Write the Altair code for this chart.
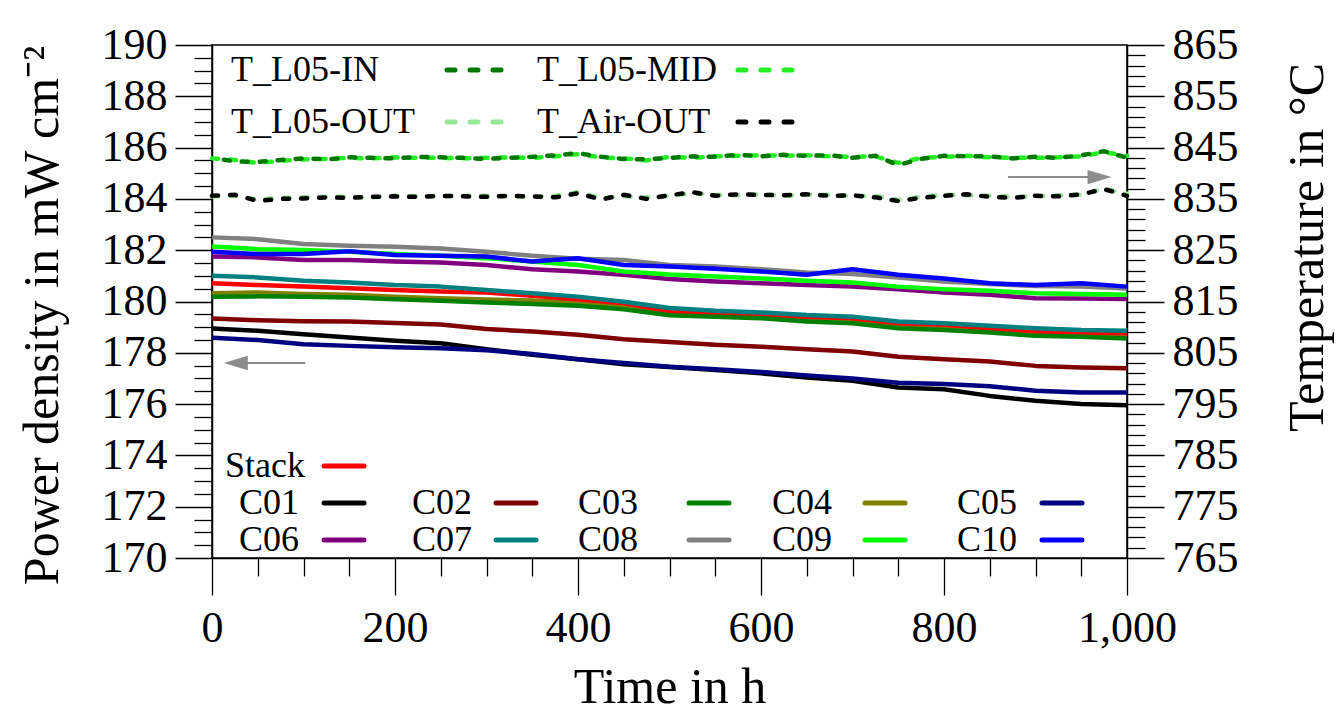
import altair as alt
import pandas as pd

# ---------------- data ----------------
TIME = list(range(0, 1001, 50))
TIME_T = list(range(0, 1001, 25))

SERIES = ["Stack", "C01", "C02", "C03", "C04", "C05", "C06", "C07", "C08", "C09", "C10"]
COLORS = ["#ff0000", "#000000", "#800000", "#008000", "#808000", "#000080",
          "#800080", "#008080", "#808080", "#00ff00", "#0000ff"]

STACK = [180.71, 180.64, 180.58, 180.52, 180.45, 180.39, 180.35, 180.22, 180.09, 179.93, 179.62,
         179.54, 179.47, 179.41, 179.35, 179.15, 179.09, 178.96, 178.83, 178.79, 178.76]
C01 = [178.95, 178.86, 178.72, 178.60, 178.47, 178.37, 178.14, 177.92, 177.75, 177.55, 177.45,
       177.33, 177.20, 177.04, 176.91, 176.65, 176.58, 176.32, 176.13, 176.00, 175.96]
C02 = [179.34, 179.27, 179.23, 179.22, 179.16, 179.10, 178.93, 178.83, 178.70, 178.53, 178.42,
       178.31, 178.24, 178.14, 178.05, 177.85, 177.75, 177.66, 177.49, 177.43, 177.40]
C03 = [180.19, 180.20, 180.19, 180.16, 180.09, 180.03, 179.96, 179.90, 179.83, 179.70, 179.46,
       179.41, 179.35, 179.22, 179.15, 178.96, 178.89, 178.79, 178.66, 178.63, 178.56]
C04 = [180.32, 180.35, 180.29, 180.26, 180.19, 180.13, 180.08, 180.04, 179.96, 179.82, 179.56,
       179.48, 179.41, 179.32, 179.25, 179.06, 178.99, 178.88, 178.75, 178.71, 178.66]
C05 = [178.59, 178.50, 178.33, 178.27, 178.22, 178.18, 178.10, 177.95, 177.75, 177.60, 177.46,
       177.36, 177.25, 177.12, 177.00, 176.83, 176.78, 176.70, 176.52, 176.45, 176.45]
C06 = [181.75, 181.72, 181.62, 181.62, 181.56, 181.52, 181.42, 181.26, 181.17, 181.04, 180.88,
       180.78, 180.71, 180.64, 180.58, 180.48, 180.35, 180.26, 180.13, 180.12, 180.10]
C07 = [181.00, 180.94, 180.81, 180.74, 180.64, 180.58, 180.45, 180.32, 180.19, 179.99, 179.75,
       179.64, 179.57, 179.47, 179.41, 179.22, 179.15, 179.05, 178.96, 178.89, 178.86]
C08 = [182.50, 182.43, 182.24, 182.17, 182.13, 182.07, 181.94, 181.78, 181.67, 181.62, 181.42,
       181.36, 181.26, 181.13, 181.07, 180.94, 180.78, 180.68, 180.60, 180.58, 180.51]
C09 = [182.14, 182.04, 182.01, 181.94, 181.85, 181.78, 181.69, 181.56, 181.42, 181.17, 181.05,
       180.97, 180.90, 180.81, 180.74, 180.58, 180.48, 180.42, 180.32, 180.29, 180.26]
C10 = [181.94, 181.85, 181.85, 181.96, 181.81, 181.78, 181.75, 181.56, 181.69, 181.42, 181.36,
       181.28, 181.17, 181.04, 181.26, 181.04, 180.90, 180.71, 180.64, 180.71, 180.58]
VALUES = [STACK, C01, C02, C03, C04, C05, C06, C07, C08, C09, C10]
DRAW_ORDER = ["C04", "Stack", "C01", "C02", "C03", "C05", "C06", "C07", "C08", "C09", "C10"]

T_NAMES = ["T_L05-IN", "T_L05-MID", "T_L05-OUT", "T_Air-OUT"]
T_COLORS = ["#007800", "#22ee22", "#99e699", "#000000"]
T_IN = [843.0, 842.3, 842.2, 842.6, 842.9, 842.7, 843.1, 843.0, 842.9, 843.2, 843.1,
        843.0, 842.8, 843.0, 843.2, 843.5, 843.9, 843.2, 842.8, 842.7, 843.0,
        843.3, 843.2, 843.6, 843.3, 843.6, 843.4, 843.5, 843.0, 843.4, 841.6,
        842.8, 843.4, 843.3, 843.3, 842.9, 843.2, 843.0, 843.5, 844.3, 843.0]
T_MID = [842.9, 842.6, 842.0, 842.4, 842.7, 842.8, 843.0, 842.9, 843.1, 843.0, 843.0,
         842.9, 843.0, 843.1, 843.0, 843.3, 843.7, 843.1, 842.9, 842.5, 843.2,
         843.0, 843.3, 843.4, 843.5, 843.4, 843.5, 843.3, 843.2, 843.3, 842.0,
         843.0, 843.2, 843.4, 843.1, 843.0, 843.0, 843.1, 843.3, 844.1, 843.4]
T_OUT = [835.5, 835.6, 834.9, 835.2, 835.3, 835.4, 835.4, 835.3, 835.6, 835.5, 835.5,
         835.6, 835.6, 835.5, 835.4, 835.6, 836.3, 835.2, 835.5, 835.3, 835.6,
         836.1, 835.8, 835.7, 835.9, 835.6, 835.8, 835.8, 835.5, 835.6, 834.8,
         835.4, 835.8, 835.7, 835.6, 835.4, 835.5, 835.7, 835.8, 837.0, 836.0]
T_AIR = [835.6, 835.8, 834.6, 835.0, 835.1, 835.3, 835.2, 835.4, 835.5, 835.4, 835.6,
         835.5, 835.4, 835.6, 835.5, 835.3, 836.1, 834.9, 835.8, 835.0, 835.7,
         836.3, 835.6, 835.9, 835.8, 835.7, 835.9, 835.6, 835.7, 835.3, 834.6,
         835.2, 835.6, 835.9, 835.4, 835.2, 835.6, 835.5, 835.9, 836.9, 835.6]
T_VALUES = [T_IN, T_MID, T_OUT, T_AIR]
T_DRAW_ORDER = ["T_L05-MID", "T_L05-IN", "T_L05-OUT", "T_Air-OUT"]

# arrows (data coordinates: time, power density)
ARROW_T = [[26, 102], [870, 970]]
ARROW_P = [177.6, 184.85]
ARROW_DIR = ["left", "right"]

# ---------------- layout ----------------
W, H = 915, 513
P_MIN, P_MAX = 170, 190
T_MIN, T_MAX = 765, 865
FONT = "Liberation Serif"
LEG_FS = 36
TITLE_FS = 50
LABEL_FS = 44


def px_t(px):
    return px * 1000.0 / W


def py_p(py):
    return P_MAX - py * (P_MAX - P_MIN) / H


df_p = pd.DataFrame([{"series": s, "t": t, "p": v}
                     for s, vals in zip(SERIES, VALUES) for t, v in zip(TIME, vals)])
df_T = pd.DataFrame([{"series": s, "t": t, "T": v}
                     for s, vals in zip(T_NAMES, T_VALUES) for t, v in zip(TIME_T, vals)])

x_axis = alt.Axis(
    values=list(range(0, 1001, 50)), format=",d",
    labelExpr="datum.value % 200 === 0 ? datum.label : ''",
    tickSize={"condition": {"test": "datum.value % 200 === 0", "value": 37}, "value": 18},
    labelFontSize=LABEL_FS, labelPadding=11, labelFlush=False, labelOverlap=False,
    title="Time in h", titleFontSize=TITLE_FS, titleFontWeight="normal", titlePadding=12,
    grid=False,
)
y_axis = alt.Axis(
    values=[170 + 0.5 * i for i in range(41)], format=".0f",
    labelExpr="datum.value % 2 === 0 ? datum.label : ''",
    tickSize={"condition": {"test": "datum.value % 2 === 0", "value": 37}, "value": 18},
    labelFontSize=LABEL_FS, labelPadding=8, labelFlush=False, labelOverlap=False,
    title="Power density in mW cm\u207b\u00b2", titleFontSize=TITLE_FS, titleFontWeight="normal",
    titleAngle=270, titleX=-155, titleY=270, titleBaseline="alphabetic", titleAlign="center",
    grid=False,
)
t_axis = alt.Axis(
    orient="right",
    values=[765 + 2 * i for i in range(51)], format="d",
    labelExpr="(datum.value - 765) % 10 === 0 ? datum.label : ''",
    tickSize={"condition": {"test": "(datum.value - 765) % 10 === 0", "value": 37}, "value": 18},
    labelFontSize=LABEL_FS, labelPadding=8, labelFlush=False, labelOverlap=False,
    title="Temperature in  \u00b0C", titleFontSize=TITLE_FS, titleFontWeight="normal",
    titleAngle=270, titleX=195, titleY=202, titleBaseline="alphabetic", titleAlign="center",
    grid=False,
)

X = alt.X("t:Q", scale=alt.Scale(domain=[0, 1000], nice=False, zero=False), axis=x_axis)
X2 = alt.X2("t2:Q")
Y = alt.Y("p:Q", scale=alt.Scale(domain=[P_MIN, P_MAX], nice=False, zero=False), axis=y_axis)
YT = alt.Y("T:Q", scale=alt.Scale(domain=[T_MIN, T_MAX], nice=False, zero=False), axis=t_axis)

color_of = dict(zip(SERIES, COLORS))
t_color_of = dict(zip(T_NAMES, T_COLORS))

power_layers = []
for s in DRAW_ORDER:
    power_layers.append(
        alt.Chart(df_p).transform_filter(alt.datum.series == s)
        .mark_line(strokeWidth=4.5, color=color_of[s], strokeJoin="round")
        .encode(x=X, y=Y)
    )

# arrows
arr_lines = pd.DataFrame([{"t": a[0], "t2": a[1], "p": p} for a, p in zip(ARROW_T, ARROW_P)])
arr_heads = pd.DataFrame([{"t": (a[0] if d == "left" else a[1]), "p": p, "dir": d}
                          for a, p, d in zip(ARROW_T, ARROW_P, ARROW_DIR)])
power_layers.append(alt.Chart(arr_lines).mark_rule(color="#8c8c8c", strokeWidth=2)
                    .encode(x=X, x2=X2, y=Y))
for d, shape in [("left", "M -1 0 L 1 -0.6 L 1 0.6 Z"), ("right", "M 1 0 L -1 -0.6 L -1 0.6 Z")]:
    power_layers.append(
        alt.Chart(arr_heads).transform_filter(alt.datum.dir == d)
        .mark_point(shape=shape, filled=True, size=576, color="#8c8c8c", opacity=1, strokeWidth=0)
        .encode(x=X, y=Y)
    )

# legends (pixel layout converted to data coordinates)
TOP_TEXT_X = [19, 325]
TOP_SYM_X = [(235, 291), (526, 584)]
TOP_ROW_Y = [25, 77]
top_text, top_sym = [], []
for i, name in enumerate(T_NAMES):
    r, c = divmod(i, 2)
    top_text.append({"t": px_t(TOP_TEXT_X[c]), "p": py_p(TOP_ROW_Y[r]), "label": name})
    top_sym.append({"t": px_t(TOP_SYM_X[c][0]), "t2": px_t(TOP_SYM_X[c][1]),
                    "p": py_p(TOP_ROW_Y[r]), "c": t_color_of[name]})

BOT_TEXT_X = [27, 200, 366, 560, 745]
BOT_SYM_X = [112, 284, 477, 653, 830]
BOT_ROW_Y = [458, 495]
bot_text = [{"t": px_t(13), "p": py_p(421), "label": "Stack"}]
bot_sym = [{"t": px_t(112), "t2": px_t(152), "p": py_p(421), "c": color_of["Stack"]}]
for i, name in enumerate(SERIES[1:]):
    r, c = divmod(i, 5)
    bot_text.append({"t": px_t(BOT_TEXT_X[c]), "p": py_p(BOT_ROW_Y[r]), "label": name})
    bot_sym.append({"t": px_t(BOT_SYM_X[c]), "t2": px_t(BOT_SYM_X[c] + 40),
                    "p": py_p(BOT_ROW_Y[r]), "c": color_of[name]})

leg_text = pd.DataFrame(top_text + bot_text)
power_layers.append(
    alt.Chart(leg_text).mark_text(align="left", baseline="middle", fontSize=LEG_FS,
                                  font=FONT, color="black")
    .encode(x=X, y=Y, text="label:N")
)
power_layers.append(
    alt.Chart(pd.DataFrame(bot_sym)).mark_rule(strokeWidth=5, strokeCap="round")
    .encode(x=X, x2=X2, y=Y, color=alt.Color("c:N", scale=None))
)
power_layers.append(
    alt.Chart(pd.DataFrame(top_sym)).mark_rule(strokeWidth=5, strokeCap="round",
                                              strokeDash=[8, 15])
    .encode(x=X, x2=X2, y=Y, color=alt.Color("c:N", scale=None))
)

temp_layers = []
for s in T_DRAW_ORDER:
    off = 6 if s == "T_L05-IN" else 0
    temp_layers.append(
        alt.Chart(df_T).transform_filter(alt.datum.series == s)
        .mark_line(strokeWidth=4.5, color=t_color_of[s], strokeDash=[6, 12],
                   strokeDashOffset=off, strokeCap="round")
        .encode(x=X, y=YT)
    )

chart = (
    alt.layer(alt.layer(*power_layers), alt.layer(*temp_layers))
    .resolve_scale(y="independent")
    .properties(
        width=W, height=H,
        padding={"left": 212, "top": 45, "right": 210, "bottom": 162},
        autosize=alt.AutoSizeParams(type="none"),
        background="white",
    )
    .configure(font=FONT)
    .configure_view(stroke="black", strokeWidth=1.5)
    .configure_axis(labelFont=FONT, titleFont=FONT, labelColor="black", titleColor="black",
                    domainColor="black", tickColor="black", domainWidth=1.5, tickWidth=1.3)
)

chart.save("out.html", embed_options={"renderer": "svg", "actions": False})
